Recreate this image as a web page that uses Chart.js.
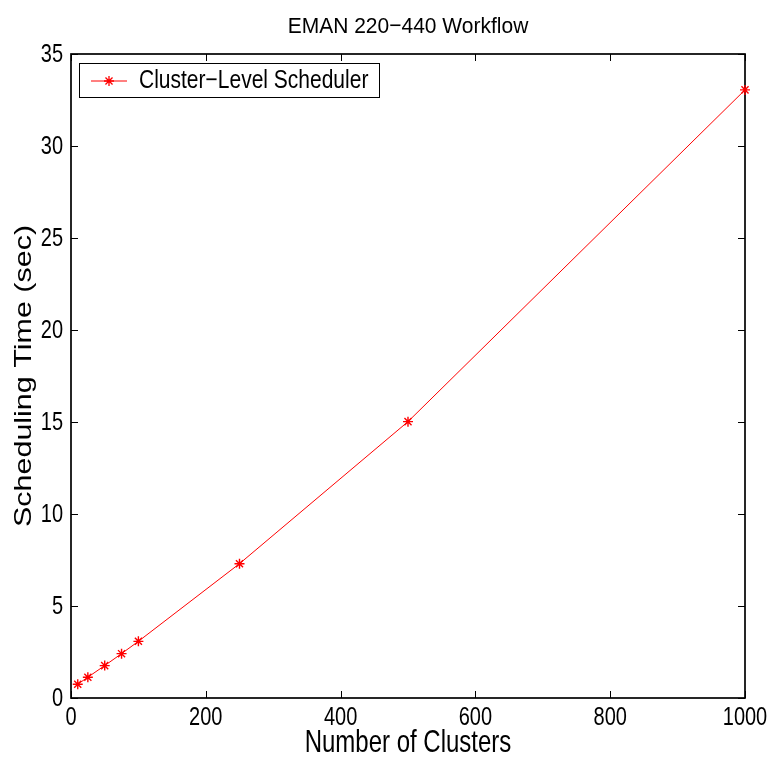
<!DOCTYPE html>
<html>
<head>
<meta charset="utf-8">
<title>EMAN 220-440 Workflow</title>
<script src="https://cdn.jsdelivr.net/npm/chart.js@4/dist/chart.umd.min.js"></script>
<style>
  html, body { margin: 0; padding: 0; background: #fff; }
  #wrap { width: 775px; height: 766px; }
</style>
</head>
<body>
<div id="wrap"><canvas id="chart" width="775" height="766"></canvas></div>
<script>
// data
const clusters = [10, 25, 50, 75, 100, 250, 500, 1000];
const schedTime = [0.75, 1.13, 1.76, 2.41, 3.08, 7.3, 15.02, 33.05];
const seriesName = 'Cluster\u2212Level Scheduler';
const chartTitle = 'EMAN 220\u2212440 Workflow';
const xLabel = 'Number of Clusters';
const yLabel = 'Scheduling Time (sec)';
const xTickVals = [0, 200, 400, 600, 800, 1000];
const yTickVals = [0, 5, 10, 15, 20, 25, 30, 35];

const FONT = 'Liberation Sans, Arial, Helvetica, sans-serif';
const STRETCH = 1.27; // the original figure is stretched vertically

// draw text with vertical stretch, like the exported matlab figure
function stretchText(ctx, text, x, y, size, align, sy, rotated) {
  ctx.save();
  ctx.translate(x, y);
  if (rotated) {
    ctx.rotate(-Math.PI / 2);
    ctx.scale(sy, 1);
  } else {
    ctx.scale(1, sy);
  }
  ctx.font = size + 'px ' + FONT;
  ctx.fillStyle = '#000';
  ctx.textAlign = align;
  ctx.textBaseline = 'middle';
  ctx.fillText(text, 0, 0);
  ctx.restore();
}

const matlabFrame = {
  id: 'matlabFrame',
  beforeDatasetsDraw(chart) {
    const ctx = chart.ctx;
    const { left, right, top, bottom } = chart.chartArea;
    const xs = chart.scales.x, ys = chart.scales.y;
    ctx.save();
    ctx.strokeStyle = '#000';
    ctx.lineWidth = 1.7;
    ctx.strokeRect(left, top, right - left, bottom - top);
    ctx.lineWidth = 1;
    ctx.beginPath();
    xs.ticks.forEach(t => {
      const px = Math.round(xs.getPixelForValue(t.value)) + 0.5;
      ctx.moveTo(px, bottom); ctx.lineTo(px, bottom - 7);
      ctx.moveTo(px, top); ctx.lineTo(px, top + 7);
    });
    ys.ticks.forEach(t => {
      const py = Math.round(ys.getPixelForValue(t.value)) + 0.5;
      ctx.moveTo(left, py); ctx.lineTo(left + 7, py);
      ctx.moveTo(right, py); ctx.lineTo(right - 7, py);
    });
    ctx.stroke();
    ctx.restore();
  },
  afterDraw(chart) {
    const ctx = chart.ctx;
    const { left, right, top, bottom } = chart.chartArea;
    const xs = chart.scales.x, ys = chart.scales.y;
    const cx = (left + right) / 2;

    // tick labels
    xs.ticks.forEach(t => {
      stretchText(ctx, String(t.value), xs.getPixelForValue(t.value), bottom + 20, 20, 'center', STRETCH);
    });
    ys.ticks.forEach(t => {
      stretchText(ctx, String(t.value), left - 8, ys.getPixelForValue(t.value) + 1, 20, 'right', STRETCH);
    });

    // titles
    stretchText(ctx, chartTitle, cx, 27, 21, 'center', 1.08);
    stretchText(ctx, xLabel, cx, 744, 24, 'center', STRETCH);
    stretchText(ctx, yLabel, 24, (top + bottom) / 2, 24, 'center', STRETCH, true);

    // legend box
    const ds = chart.data.datasets[0];
    ctx.save();
    ctx.fillStyle = '#fff';
    ctx.strokeStyle = '#000';
    ctx.lineWidth = 1;
    ctx.fillRect(79.5, 63.5, 300, 34);
    ctx.strokeRect(79.5, 63.5, 300, 34);
    ctx.strokeStyle = ds.borderColor;
    ctx.beginPath();
    ctx.moveTo(91, 81); ctx.lineTo(127, 81);
    ctx.stroke();
    ctx.lineWidth = 1.3;
    Chart.helpers.drawPoint(ctx, { pointStyle: 'star', radius: 5, borderWidth: 1.3, rotation: 0 }, 109, 81);
    ctx.restore();
    stretchText(ctx, ds.label, 139, 81, 21, 'left', 1.22);
  }
};

new Chart(document.getElementById('chart'), {
  type: 'line',
  data: {
    datasets: [{
      label: seriesName,
      data: clusters.map((c, i) => ({ x: c, y: schedTime[i] })),
      borderColor: '#ff0000',
      backgroundColor: '#ff0000',
      borderWidth: 1,
      pointStyle: 'star',
      pointRadius: 5,
      pointBorderWidth: 1.4,
      pointBorderColor: '#ff0000',
      tension: 0,
      fill: false,
      clip: false
    }]
  },
  options: {
    responsive: false,
    animation: false,
    layout: { padding: { top: 54, right: 30, left: 0, bottom: 0 } },
    plugins: {
      legend: { display: false },
      title: { display: false },
      tooltip: { enabled: false }
    },
    scales: {
      x: {
        type: 'linear',
        min: 0,
        max: 1000,
        afterBuildTicks: s => { s.ticks = xTickVals.map(v => ({ value: v })); },
        afterFit: s => { s.height = 68; },
        grid: { display: false },
        border: { display: false },
        ticks: { display: false }
      },
      y: {
        type: 'linear',
        min: 0,
        max: 35,
        afterBuildTicks: s => { s.ticks = yTickVals.map(v => ({ value: v })); },
        afterFit: s => { s.width = 71; },
        grid: { display: false },
        border: { display: false },
        ticks: { display: false }
      }
    }
  },
  plugins: [matlabFrame]
});
</script>
</body>
</html>
